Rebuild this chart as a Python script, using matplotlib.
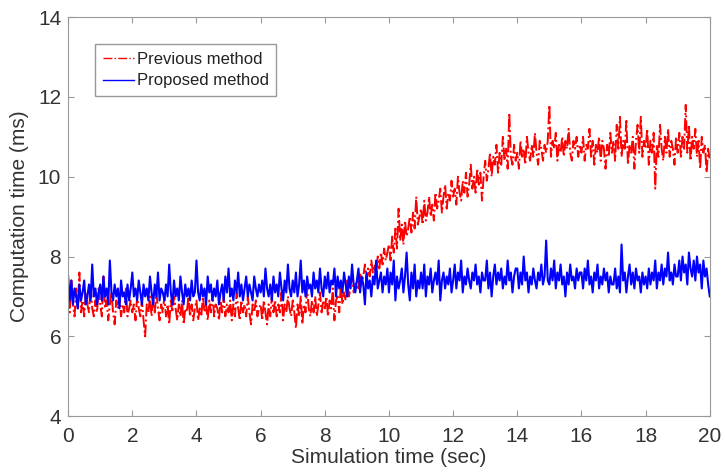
import numpy as np
import matplotlib.pyplot as plt

plt.rcParams['font.family'] = ['Liberation Sans', 'DejaVu Sans']

# Tiempo de simulación (s), cada 0.05 s
t = np.arange(401) * 0.05

# Método anterior (ms), una fila por segundo
previous = [
    7.0, 6.6, 7.4, 6.8, 6.5, 7.2, 6.7, 7.6, 6.6, 6.9, 6.5, 7.1, 6.8, 6.6, 7.3, 6.7, 6.5, 6.9, 6.6, 7.2,
    6.8, 6.5, 7.5, 6.7, 6.9, 6.4, 6.8, 7.1, 6.6, 6.3, 6.9, 6.7, 7.0, 6.5, 6.8, 6.6, 7.2, 6.5, 6.7, 6.9,
    6.6, 6.8, 6.4, 7.0, 6.7, 6.5, 6.9, 6.4, 6.0, 6.8, 6.6, 7.0, 6.5, 6.9, 6.6, 7.1, 6.7, 6.4, 6.8, 6.6,
    7.0, 6.5, 6.8, 6.3, 6.9, 6.6, 7.0, 6.7, 6.4, 6.8, 6.5, 6.9, 6.3, 6.7, 6.6, 7.0, 6.5, 6.8, 6.4, 6.7,
    6.9, 6.4, 6.7, 6.5, 7.0, 6.6, 6.8, 6.4, 6.9, 6.6, 7.1, 6.5, 6.8, 6.7, 6.4, 6.9, 6.6, 7.0, 6.5, 6.8,
    6.6, 6.9, 6.4, 6.8, 6.5, 7.1, 6.7, 6.4, 6.9, 6.6, 6.8, 6.5, 7.0, 6.6, 6.3, 6.8, 6.6, 6.9, 6.5, 6.7,
    6.8, 6.4, 6.9, 6.6, 6.3, 6.8, 6.5, 7.0, 6.6, 6.9, 6.5, 6.8, 6.6, 7.1, 6.4, 6.8, 6.6, 7.0, 6.7, 6.5,
    6.9, 6.6, 6.2, 6.8, 6.5, 7.0, 6.3, 6.8, 6.6, 7.2, 6.7, 6.5, 6.9, 6.6, 7.0, 6.5, 6.8, 7.1, 6.6, 6.9,
    6.7, 7.0, 6.5, 6.9, 6.7, 7.2, 6.4, 6.9, 7.0, 6.6, 7.3, 6.8, 7.1, 6.9, 7.4, 7.0, 7.2, 7.5, 7.1, 7.3,
    7.4, 7.2, 7.6, 7.3, 7.5, 7.8, 7.4, 7.7, 7.5, 7.9, 7.6, 7.8, 7.5, 8.0, 7.7, 8.1, 7.8, 8.2, 7.9, 8.1,
    8.3, 7.9, 8.5, 8.1, 8.7, 8.2, 9.2, 8.4, 8.8, 8.3, 8.9, 8.5, 8.7, 9.0, 8.6, 9.1, 8.7, 9.5, 8.8, 9.0,
    9.2, 8.8, 9.4, 8.9, 9.1, 9.5, 9.0, 9.3, 8.9, 9.6, 9.2, 9.4, 9.7, 9.1, 9.5, 9.8, 9.2, 9.6, 9.4, 9.9,
    9.5, 9.7, 9.3, 10.0, 9.6, 9.4, 9.9, 9.6, 10.1, 9.5, 9.8, 10.3, 9.7, 10.0, 9.6, 10.2, 9.8, 10.1, 9.4, 10.0,
    10.4, 9.9, 10.2, 10.6, 10.0, 10.5, 10.3, 10.8, 10.1, 10.6, 10.3, 11.0, 10.4, 10.7, 10.2, 11.6, 10.5, 10.3, 10.8, 10.4,
    10.6, 10.2, 10.9, 10.5, 10.7, 10.3, 11.0, 10.6, 10.4, 10.8, 10.5, 11.1, 10.6, 10.3, 10.9, 10.7, 10.4, 10.8, 10.6, 10.9,
    11.8, 10.5, 10.9, 10.7, 11.1, 10.4, 10.8, 10.6, 11.0, 10.5, 10.9, 10.7, 11.2, 10.6, 10.4, 10.9, 10.7, 11.0, 10.5, 10.8,
    10.6, 11.0, 10.4, 10.8, 10.7, 11.2, 10.5, 10.9, 10.3, 10.8, 10.6, 11.0, 10.4, 10.9, 10.7, 10.2, 10.8, 10.5, 11.1, 10.6,
    10.9, 10.4, 11.3, 10.7, 11.5, 10.5, 10.9, 10.7, 11.4, 10.3, 10.8, 10.6, 11.0, 10.2, 10.9, 11.3, 10.6, 11.5, 10.5, 10.9,
    10.7, 11.2, 10.3, 10.9, 10.6, 11.1, 9.7, 10.8, 10.5, 11.3, 10.7, 10.4, 11.0, 10.6, 11.2, 10.5, 10.9, 10.7, 10.3, 11.0,
    10.6, 11.1, 10.5, 11.0, 10.7, 11.8, 10.6, 11.3, 10.4, 11.0, 10.7, 11.2, 10.5, 10.9, 10.2, 11.0, 10.6, 10.8, 10.1, 10.7,
    10.4,
]

# Método propuesto (ms), una fila por segundo
proposed = [
    7.5, 6.9, 7.4, 6.8, 7.2, 7.0, 6.7, 7.3, 6.9, 7.1, 7.4, 6.8, 7.0, 7.3, 6.9, 7.8, 7.0, 7.2, 6.8, 7.1,
    7.3, 6.9, 7.5, 7.0, 7.2, 6.8, 7.9, 7.1, 6.9, 7.3, 7.0, 7.2, 6.7, 7.4, 7.0, 7.1, 6.8, 7.3, 6.9, 7.2,
    7.6, 7.0, 7.2, 6.9, 7.4, 7.1, 6.8, 7.3, 7.0, 7.2, 6.9, 7.5, 7.1, 6.8, 7.3, 7.0, 7.6, 6.9, 7.2, 7.1,
    6.9, 7.3, 7.0, 7.8, 7.1, 6.8, 7.4, 7.0, 7.2, 6.9, 7.5, 7.1, 6.8, 7.3, 7.0, 7.2, 6.9, 7.4, 7.0, 7.1,
    7.9, 7.1, 6.9, 7.3, 7.0, 7.2, 6.8, 7.5, 7.1, 7.3, 6.9, 7.2, 7.0, 7.4, 6.8, 7.1, 7.3, 6.9, 7.5, 7.1,
    7.7, 7.0, 7.2, 6.9, 7.4, 7.1, 7.6, 7.0, 7.3, 6.9, 7.2, 7.5, 7.0, 7.3, 7.1, 6.9, 7.5, 7.2, 7.0, 7.3,
    7.1, 7.4, 7.0, 7.7, 7.2, 7.0, 7.3, 6.9, 7.5, 7.1, 7.3, 7.0, 7.6, 7.2, 6.9, 7.4, 7.1, 7.8, 7.2, 7.0,
    7.4, 7.1, 7.6, 7.0, 7.3, 7.9, 7.1, 7.4, 7.0, 7.5, 7.2, 7.3, 7.0, 7.6, 7.2, 7.4, 7.1, 7.7, 7.2, 7.0,
    7.5, 7.2, 7.6, 7.1, 7.4, 7.3, 7.7, 7.0, 7.5, 7.2, 7.4, 7.1, 7.6, 7.3, 7.0, 7.5, 7.2, 7.8, 7.3, 7.1,
    7.4, 7.7, 7.1, 7.5, 7.3, 6.8, 7.6, 7.2, 7.4, 7.0, 7.5, 7.3, 7.9, 7.2, 7.4, 7.6, 7.1, 7.5, 7.3, 7.7,
    7.1, 7.6, 7.3, 7.9, 6.9, 7.5, 7.2, 7.4, 7.7, 7.1, 7.5, 8.1, 7.3, 6.9, 7.6, 7.2, 7.8, 7.0, 7.4, 7.2,
    7.6, 7.2, 7.8, 7.0, 7.5, 7.3, 7.7, 7.1, 7.4, 7.6, 7.3, 7.9, 6.9, 7.4, 7.6, 7.2, 7.5, 7.3, 7.7, 7.1,
    7.4, 7.8, 7.2, 7.6, 7.4, 7.9, 7.1, 7.5, 7.3, 7.7, 7.4, 7.2, 7.6, 7.4, 7.8, 7.3, 7.5, 7.1, 7.6, 7.4,
    7.4, 7.9, 7.2, 7.6, 7.0, 7.5, 7.8, 7.3, 7.6, 7.4, 7.7, 7.2, 7.5, 7.3, 7.9, 7.4, 7.6, 7.1, 7.5, 7.7,
    7.7, 7.2, 7.6, 7.3, 8.0, 7.4, 7.6, 7.1, 7.5, 7.3, 7.7, 7.4, 7.2, 7.6, 7.4, 7.8, 7.3, 7.5, 8.4, 7.4,
    7.3, 7.7, 7.4, 7.9, 7.2, 7.6, 7.4, 7.8, 7.3, 7.5, 7.0, 7.6, 7.3, 7.8, 7.4, 7.5, 7.2, 7.7, 7.4, 7.6,
    7.6, 7.2, 7.7, 7.4, 7.9, 7.3, 7.5, 7.1, 7.6, 7.4, 7.8, 7.2, 7.5, 7.3, 7.7, 7.4, 7.6, 7.1, 7.5, 7.3,
    7.3, 7.7, 7.2, 7.5, 7.1, 8.3, 7.4, 7.6, 7.1, 7.5, 7.8, 7.3, 7.6, 7.2, 7.7, 7.4, 7.5, 7.1, 7.6, 7.3,
    7.5, 7.2, 7.7, 7.3, 7.6, 7.4, 7.9, 7.2, 7.6, 7.4, 7.8, 7.3, 7.7, 7.5, 8.1, 7.4, 7.6, 7.3, 7.8, 7.5,
    7.5, 7.9, 7.4, 8.0, 7.6, 7.8, 7.3, 8.1, 7.7, 7.5, 7.9, 7.4, 8.0, 7.6, 7.8, 7.2, 7.9, 7.5, 7.7, 7.3,
    7.0,
]

fig = plt.figure(figsize=(7.25, 4.74), dpi=100)
ax = fig.add_axes([0.094, 0.122, 0.885, 0.842])

ax.plot(t, previous, color='red', linestyle='-.', linewidth=1.4, label='Previous method')
ax.plot(t, proposed, color='blue', linestyle='-', linewidth=1.5, label='Proposed method')

ax.set_xlim(0, 20)
ax.set_ylim(4, 14)
ax.set_xticks(range(0, 21, 2))
ax.set_yticks(range(4, 15, 2))
ax.tick_params(direction='in', length=4, top=True, right=True,
               labelsize=15, colors='#999999', labelcolor='#333333')
ax.tick_params(axis='x', pad=8)
ax.tick_params(axis='y', pad=5)
for s in ax.spines.values():
    s.set_color('#999999')

ax.set_xlabel('Simulation time (sec)', fontsize=15, color='#333333', labelpad=1)
ax.set_ylabel('Computation time (ms)', fontsize=15, color='#333333', labelpad=6)

leg = ax.legend(loc='upper left', bbox_to_anchor=(0.042, 0.932), fontsize=12,
                fancybox=False, framealpha=1, edgecolor='#999999',
                handlelength=1.9, handletextpad=0.15, borderpad=0.45,
                labelspacing=0.4, borderaxespad=0)
for h in leg.get_lines():
    h.set_linewidth(1.0)
for txt in leg.get_texts():
    txt.set_color('#222222')

fig.savefig('out.png', dpi=100)
